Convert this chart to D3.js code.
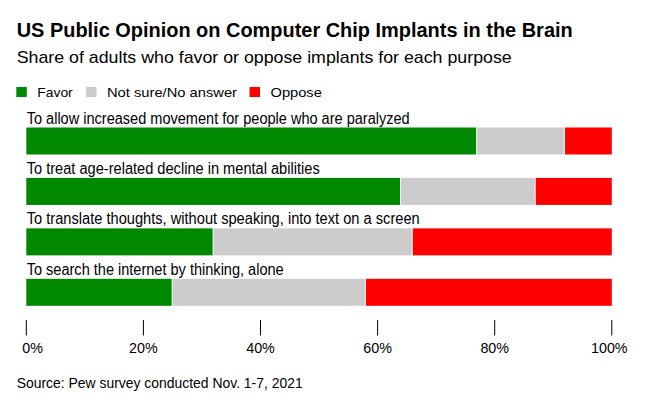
<!DOCTYPE html>
<html><head><meta charset="utf-8">
<script src="https://cdn.jsdelivr.net/npm/d3@7"></script>
<style>body{margin:0;background:#fff;} text{font-family:"Liberation Sans",Arial,sans-serif;fill:#000;}</style>
</head><body><svg id="c" width="646" height="404"></svg>
<script>
const categories = [
  "To allow increased movement for people who are paralyzed",
  "To treat age-related decline in mental abilities",
  "To translate thoughts, without speaking, into text on a screen",
  "To search the internet by thinking, alone"
];
const seriesNames = ["Favor", "Not sure/No answer", "Oppose"];
const favor = [77, 64, 32, 25];
const notSure = [15, 23, 34, 33];
const oppose = [8, 13, 34, 42];
const tickValues = [0, 20, 40, 60, 80, 100];
const colors = ["#008800", "#cccccc", "#ff0000"];

const svg = d3.select("#c");
const x = d3.scaleLinear().domain([0, 100]).range([26.3, 611.8]);
const y = d3.scaleBand().domain(categories).range([127.5, 305.8]).paddingInner(0.465).paddingOuter(0).align(0);

function fit(sel, w) { sel.attr("textLength", w).attr("lengthAdjust", "spacingAndGlyphs"); return sel; }

fit(svg.append("text").attr("x", 16.7).attr("y", 37.3).attr("font-size", 19.5).attr("font-weight", "bold")
  .text("US Public Opinion on Computer Chip Implants in the Brain"), 556);
fit(svg.append("text").attr("x", 16.7).attr("y", 63.3).attr("font-size", 17)
  .text("Share of adults who favor or oppose implants for each purpose"), 495);

// legend
const legX = [16.3, 86, 249.5];
const legW = [35.4, 130, 51.3];
seriesNames.forEach((n, i) => {
  svg.append("rect").attr("x", legX[i]).attr("y", 87).attr("width", 10.5).attr("height", 10).attr("fill", colors[i]);
  fit(svg.append("text").attr("x", legX[i] + 21).attr("y", 96.8).attr("font-size", 13.5).text(n), legW[i]);
});

const stackData = categories.map((c, i) => ({cat: c, Favor: favor[i], "Not sure/No answer": notSure[i], Oppose: oppose[i]}));
const stack = d3.stack().keys(seriesNames)(stackData);

const labelW = [383, 293, 393, 257];
categories.forEach((c, i) => {
  fit(svg.append("text").attr("x", 26.7).attr("y", y(c) - 4).attr("font-size", 16).text(c), labelW[i]);
});

stack.forEach((layer, li) => {
  svg.append("g").selectAll("rect").data(layer).join("rect")
    .attr("x", d => x(d[0]))
    .attr("y", d => y(d.data.cat))
    .attr("width", d => x(d[1]) - x(d[0]) - (li < seriesNames.length - 1 ? 1 : 0))
    .attr("height", y.bandwidth())
    .attr("fill", colors[li]);
});

// axis
const ax = svg.append("g");
tickValues.forEach(t => {
  ax.append("line").attr("x1", x(t)).attr("x2", x(t)).attr("y1", 320).attr("y2", 335.5)
    .attr("stroke", "#000").attr("stroke-width", 1);
  const off = t === 0 ? 6.3 : (t === 100 ? -2.5 : 0);
  ax.append("text").attr("x", x(t) + off).attr("y", 353.3).attr("text-anchor", "middle")
    .attr("font-size", 14.3).text(t + "%");
});

fit(svg.append("text").attr("x", 16.7).attr("y", 388.3).attr("font-size", 14.5)
  .text("Source: Pew survey conducted Nov. 1-7, 2021"), 286);
</script></body></html>
